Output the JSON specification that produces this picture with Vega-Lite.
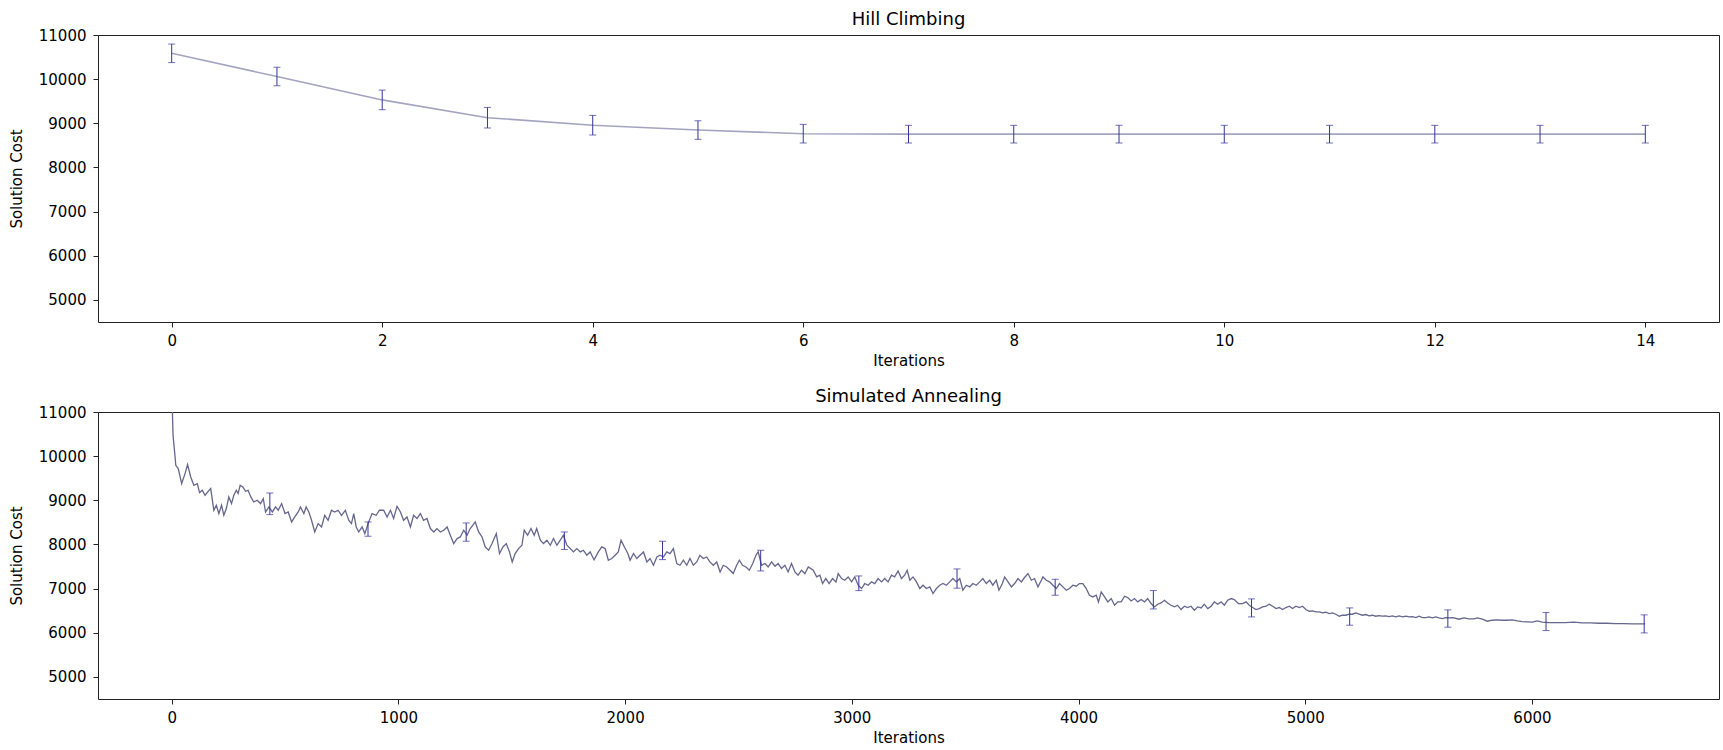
{
  "$schema": "https://vega.github.io/schema/vega-lite/v6.json",
  "background": "white",
  "padding": {"left": 8, "top": 10, "right": 5, "bottom": 2},
  "bounds": "flush",
  "spacing": 90,
  "config": {
    "font": "DejaVu Sans",
    "view": {"stroke": "#222222", "strokeWidth": 1},
    "axis": {
      "grid": false,
      "domain": false,
      "tickColor": "#222222",
      "tickSize": 5,
      "labelFont": "DejaVu Sans",
      "labelFontSize": 15,
      "labelColor": "#000000",
      "labelFlush": false,
      "labelOverlap": false,
      "format": "d",
      "titleFont": "DejaVu Sans",
      "titleFontSize": 15,
      "titleFontWeight": "normal",
      "titleColor": "#000000"
    },
    "axisX": {"labelPadding": 6, "titleY": 38, "titleBaseline": "middle"},
    "axisY": {"labelPadding": 7, "titleX": -82, "titleBaseline": "middle"},
    "title": {"font": "DejaVu Sans", "fontSize": 18, "fontWeight": "normal", "color": "#000000", "offset": -1}
  },
  "datasets": {
    "hc": [
      {"iter": 0, "mean": 10585, "lo": 10375, "hi": 10795},
      {"iter": 1, "mean": 10060, "lo": 9850, "hi": 10270},
      {"iter": 2, "mean": 9530, "lo": 9308, "hi": 9752},
      {"iter": 3, "mean": 9127, "lo": 8894, "hi": 9360},
      {"iter": 4, "mean": 8957, "lo": 8735, "hi": 9179},
      {"iter": 5, "mean": 8847, "lo": 8637, "hi": 9057},
      {"iter": 6, "mean": 8765, "lo": 8554, "hi": 8976},
      {"iter": 7, "mean": 8754, "lo": 8554, "hi": 8954},
      {"iter": 8, "mean": 8754, "lo": 8554, "hi": 8954},
      {"iter": 9, "mean": 8754, "lo": 8554, "hi": 8954},
      {"iter": 10, "mean": 8754, "lo": 8554, "hi": 8954},
      {"iter": 11, "mean": 8754, "lo": 8554, "hi": 8954},
      {"iter": 12, "mean": 8754, "lo": 8554, "hi": 8954},
      {"iter": 13, "mean": 8754, "lo": 8554, "hi": 8954},
      {"iter": 14, "mean": 8754, "lo": 8554, "hi": 8954}
    ],
    "saErr": [
      {"iter": 433, "mean": 8921, "lo": 8676, "hi": 9166},
      {"iter": 866, "mean": 8348, "lo": 8186, "hi": 8510},
      {"iter": 1299, "mean": 8280, "lo": 8073, "hi": 8487},
      {"iter": 1732, "mean": 8084, "lo": 7885, "hi": 8283},
      {"iter": 2165, "mean": 7865, "lo": 7657, "hi": 8073},
      {"iter": 2598, "mean": 7635, "lo": 7401, "hi": 7869},
      {"iter": 3031, "mean": 7121, "lo": 6955, "hi": 7287},
      {"iter": 3464, "mean": 7228, "lo": 7010, "hi": 7446},
      {"iter": 3897, "mean": 7031, "lo": 6850, "hi": 7212},
      {"iter": 4330, "mean": 6748, "lo": 6540, "hi": 6956},
      {"iter": 4763, "mean": 6563, "lo": 6359, "hi": 6767},
      {"iter": 5196, "mean": 6367, "lo": 6171, "hi": 6563},
      {"iter": 5629, "mean": 6322, "lo": 6126, "hi": 6518},
      {"iter": 6062, "mean": 6254, "lo": 6050, "hi": 6458},
      {"iter": 6495, "mean": 6201, "lo": 5997, "hi": 6405}
    ],
    "sa": [
      {"iter": 0, "cost": 11600}, {"iter": 6, "cost": 10470}, {"iter": 15, "cost": 9981}, {"iter": 18, "cost": 9793},
      {"iter": 29, "cost": 9718}, {"iter": 44, "cost": 9379}, {"iter": 59, "cost": 9605}, {"iter": 70, "cost": 9809},
      {"iter": 84, "cost": 9528}, {"iter": 98, "cost": 9340}, {"iter": 113, "cost": 9379}, {"iter": 123, "cost": 9175},
      {"iter": 135, "cost": 9227}, {"iter": 147, "cost": 9114}, {"iter": 161, "cost": 9204}, {"iter": 172, "cost": 9266},
      {"iter": 186, "cost": 8775}, {"iter": 197, "cost": 8888}, {"iter": 208, "cost": 8700}, {"iter": 220, "cost": 8888},
      {"iter": 230, "cost": 8661}, {"iter": 241, "cost": 8813}, {"iter": 252, "cost": 9076}, {"iter": 264, "cost": 8926},
      {"iter": 274, "cost": 9114}, {"iter": 285, "cost": 9227}, {"iter": 293, "cost": 9152}, {"iter": 302, "cost": 9340},
      {"iter": 314, "cost": 9302}, {"iter": 326, "cost": 9204}, {"iter": 337, "cost": 9227}, {"iter": 349, "cost": 9076},
      {"iter": 362, "cost": 8962}, {"iter": 377, "cost": 9001}, {"iter": 392, "cost": 8926}, {"iter": 404, "cost": 9039},
      {"iter": 414, "cost": 8736}, {"iter": 429, "cost": 8849}, {"iter": 444, "cost": 8736}, {"iter": 458, "cost": 8849},
      {"iter": 470, "cost": 8775}, {"iter": 485, "cost": 8926}, {"iter": 500, "cost": 8700}, {"iter": 514, "cost": 8736},
      {"iter": 529, "cost": 8510}, {"iter": 543, "cost": 8623}, {"iter": 558, "cost": 8736}, {"iter": 568, "cost": 8849},
      {"iter": 583, "cost": 8700}, {"iter": 593, "cost": 8849}, {"iter": 605, "cost": 8736}, {"iter": 617, "cost": 8548},
      {"iter": 631, "cost": 8283}, {"iter": 646, "cost": 8473}, {"iter": 661, "cost": 8397}, {"iter": 675, "cost": 8661},
      {"iter": 690, "cost": 8548}, {"iter": 705, "cost": 8775}, {"iter": 719, "cost": 8736}, {"iter": 734, "cost": 8775},
      {"iter": 749, "cost": 8661}, {"iter": 766, "cost": 8775}, {"iter": 781, "cost": 8548}, {"iter": 793, "cost": 8473},
      {"iter": 803, "cost": 8700}, {"iter": 814, "cost": 8397}, {"iter": 825, "cost": 8283}, {"iter": 840, "cost": 8397},
      {"iter": 852, "cost": 8246}, {"iter": 869, "cost": 8510}, {"iter": 884, "cost": 8700}, {"iter": 902, "cost": 8661},
      {"iter": 916, "cost": 8775}, {"iter": 935, "cost": 8775}, {"iter": 950, "cost": 8623}, {"iter": 965, "cost": 8775},
      {"iter": 979, "cost": 8587}, {"iter": 994, "cost": 8865}, {"iter": 1009, "cost": 8736}, {"iter": 1023, "cost": 8548},
      {"iter": 1038, "cost": 8623}, {"iter": 1053, "cost": 8397}, {"iter": 1067, "cost": 8661}, {"iter": 1082, "cost": 8587},
      {"iter": 1097, "cost": 8700}, {"iter": 1111, "cost": 8548}, {"iter": 1126, "cost": 8587}, {"iter": 1141, "cost": 8360},
      {"iter": 1156, "cost": 8283}, {"iter": 1170, "cost": 8360}, {"iter": 1185, "cost": 8283}, {"iter": 1200, "cost": 8322},
      {"iter": 1215, "cost": 8397}, {"iter": 1229, "cost": 8209}, {"iter": 1244, "cost": 8020}, {"iter": 1259, "cost": 8134},
      {"iter": 1273, "cost": 8170}, {"iter": 1288, "cost": 8322}, {"iter": 1303, "cost": 8209}, {"iter": 1317, "cost": 8360},
      {"iter": 1339, "cost": 8510}, {"iter": 1354, "cost": 8283}, {"iter": 1369, "cost": 8170}, {"iter": 1383, "cost": 7944},
      {"iter": 1398, "cost": 7869}, {"iter": 1413, "cost": 8020}, {"iter": 1432, "cost": 8247}, {"iter": 1446, "cost": 7794},
      {"iter": 1461, "cost": 7944}, {"iter": 1476, "cost": 8020}, {"iter": 1490, "cost": 7831}, {"iter": 1502, "cost": 7604},
      {"iter": 1515, "cost": 7794}, {"iter": 1530, "cost": 7907}, {"iter": 1545, "cost": 7982}, {"iter": 1555, "cost": 8322},
      {"iter": 1570, "cost": 8209}, {"iter": 1585, "cost": 8360}, {"iter": 1599, "cost": 8209}, {"iter": 1610, "cost": 8360},
      {"iter": 1626, "cost": 8096}, {"iter": 1640, "cost": 8020}, {"iter": 1655, "cost": 8096}, {"iter": 1670, "cost": 7982},
      {"iter": 1684, "cost": 8134}, {"iter": 1699, "cost": 7982}, {"iter": 1714, "cost": 8096}, {"iter": 1728, "cost": 8209},
      {"iter": 1743, "cost": 7982}, {"iter": 1758, "cost": 7907}, {"iter": 1772, "cost": 7831}, {"iter": 1787, "cost": 7907},
      {"iter": 1802, "cost": 7831}, {"iter": 1816, "cost": 7869}, {"iter": 1831, "cost": 7756}, {"iter": 1846, "cost": 7831},
      {"iter": 1863, "cost": 7650}, {"iter": 1882, "cost": 7831}, {"iter": 1897, "cost": 7944}, {"iter": 1912, "cost": 7907},
      {"iter": 1926, "cost": 7643}, {"iter": 1941, "cost": 7681}, {"iter": 1956, "cost": 7756}, {"iter": 1970, "cost": 7831},
      {"iter": 1982, "cost": 8096}, {"iter": 1997, "cost": 7944}, {"iter": 2012, "cost": 7794}, {"iter": 2022, "cost": 7643},
      {"iter": 2037, "cost": 7794}, {"iter": 2052, "cost": 7681}, {"iter": 2066, "cost": 7756}, {"iter": 2081, "cost": 7831},
      {"iter": 2096, "cost": 7604}, {"iter": 2110, "cost": 7681}, {"iter": 2125, "cost": 7529}, {"iter": 2140, "cost": 7717},
      {"iter": 2154, "cost": 7756}, {"iter": 2169, "cost": 7717}, {"iter": 2184, "cost": 7831}, {"iter": 2198, "cost": 7794},
      {"iter": 2213, "cost": 7907}, {"iter": 2228, "cost": 7568}, {"iter": 2242, "cost": 7529}, {"iter": 2257, "cost": 7643},
      {"iter": 2272, "cost": 7529}, {"iter": 2286, "cost": 7681}, {"iter": 2301, "cost": 7529}, {"iter": 2316, "cost": 7604},
      {"iter": 2330, "cost": 7756}, {"iter": 2345, "cost": 7681}, {"iter": 2360, "cost": 7717}, {"iter": 2374, "cost": 7604},
      {"iter": 2389, "cost": 7529}, {"iter": 2404, "cost": 7604}, {"iter": 2419, "cost": 7378}, {"iter": 2433, "cost": 7529},
      {"iter": 2448, "cost": 7491}, {"iter": 2463, "cost": 7416}, {"iter": 2477, "cost": 7341}, {"iter": 2492, "cost": 7529},
      {"iter": 2504, "cost": 7643}, {"iter": 2518, "cost": 7529}, {"iter": 2533, "cost": 7491}, {"iter": 2548, "cost": 7416},
      {"iter": 2563, "cost": 7568}, {"iter": 2577, "cost": 7756}, {"iter": 2587, "cost": 7831}, {"iter": 2602, "cost": 7529},
      {"iter": 2617, "cost": 7568}, {"iter": 2631, "cost": 7491}, {"iter": 2646, "cost": 7604}, {"iter": 2661, "cost": 7507},
      {"iter": 2675, "cost": 7568}, {"iter": 2690, "cost": 7454}, {"iter": 2705, "cost": 7529}, {"iter": 2719, "cost": 7378},
      {"iter": 2734, "cost": 7568}, {"iter": 2749, "cost": 7378}, {"iter": 2763, "cost": 7303}, {"iter": 2778, "cost": 7416},
      {"iter": 2793, "cost": 7341}, {"iter": 2808, "cost": 7491}, {"iter": 2830, "cost": 7416}, {"iter": 2845, "cost": 7265},
      {"iter": 2859, "cost": 7303}, {"iter": 2871, "cost": 7115}, {"iter": 2885, "cost": 7228}, {"iter": 2900, "cost": 7115},
      {"iter": 2915, "cost": 7228}, {"iter": 2930, "cost": 7152}, {"iter": 2940, "cost": 7341}, {"iter": 2955, "cost": 7228},
      {"iter": 2969, "cost": 7190}, {"iter": 2984, "cost": 7265}, {"iter": 2999, "cost": 7152}, {"iter": 3013, "cost": 7265},
      {"iter": 3028, "cost": 7077}, {"iter": 3043, "cost": 7002}, {"iter": 3057, "cost": 7115}, {"iter": 3072, "cost": 7077},
      {"iter": 3087, "cost": 7152}, {"iter": 3101, "cost": 7115}, {"iter": 3116, "cost": 7228}, {"iter": 3131, "cost": 7152},
      {"iter": 3145, "cost": 7228}, {"iter": 3160, "cost": 7152}, {"iter": 3175, "cost": 7303}, {"iter": 3189, "cost": 7265},
      {"iter": 3204, "cost": 7401}, {"iter": 3219, "cost": 7228}, {"iter": 3233, "cost": 7303}, {"iter": 3244, "cost": 7416},
      {"iter": 3256, "cost": 7190}, {"iter": 3270, "cost": 7265}, {"iter": 3285, "cost": 7152}, {"iter": 3300, "cost": 7002},
      {"iter": 3314, "cost": 7077}, {"iter": 3329, "cost": 7002}, {"iter": 3344, "cost": 7039}, {"iter": 3358, "cost": 6889},
      {"iter": 3373, "cost": 7002}, {"iter": 3388, "cost": 7077}, {"iter": 3402, "cost": 7115}, {"iter": 3417, "cost": 7077},
      {"iter": 3432, "cost": 7152}, {"iter": 3446, "cost": 7228}, {"iter": 3461, "cost": 7152}, {"iter": 3476, "cost": 7228},
      {"iter": 3490, "cost": 6964}, {"iter": 3505, "cost": 7077}, {"iter": 3520, "cost": 7039}, {"iter": 3534, "cost": 7115},
      {"iter": 3549, "cost": 7077}, {"iter": 3564, "cost": 7152}, {"iter": 3578, "cost": 7228}, {"iter": 3593, "cost": 7115},
      {"iter": 3608, "cost": 7190}, {"iter": 3622, "cost": 7077}, {"iter": 3637, "cost": 7190}, {"iter": 3649, "cost": 6964},
      {"iter": 3664, "cost": 7115}, {"iter": 3674, "cost": 7265}, {"iter": 3689, "cost": 7152}, {"iter": 3704, "cost": 7039},
      {"iter": 3718, "cost": 7115}, {"iter": 3733, "cost": 7228}, {"iter": 3748, "cost": 7152}, {"iter": 3760, "cost": 7240},
      {"iter": 3777, "cost": 7341}, {"iter": 3792, "cost": 7190}, {"iter": 3806, "cost": 7228}, {"iter": 3821, "cost": 7039},
      {"iter": 3836, "cost": 7190}, {"iter": 3843, "cost": 7265}, {"iter": 3858, "cost": 7190}, {"iter": 3872, "cost": 7152},
      {"iter": 3887, "cost": 7077}, {"iter": 3902, "cost": 7002}, {"iter": 3916, "cost": 7115}, {"iter": 3931, "cost": 7039},
      {"iter": 3946, "cost": 6964}, {"iter": 3960, "cost": 7002}, {"iter": 3975, "cost": 7077}, {"iter": 3990, "cost": 7054},
      {"iter": 4004, "cost": 7115}, {"iter": 4019, "cost": 7115}, {"iter": 4034, "cost": 7002}, {"iter": 4048, "cost": 6850},
      {"iter": 4063, "cost": 6812}, {"iter": 4078, "cost": 6850}, {"iter": 4088, "cost": 6699}, {"iter": 4100, "cost": 6925},
      {"iter": 4115, "cost": 6812}, {"iter": 4129, "cost": 6699}, {"iter": 4144, "cost": 6775}, {"iter": 4159, "cost": 6624},
      {"iter": 4173, "cost": 6699}, {"iter": 4188, "cost": 6699}, {"iter": 4203, "cost": 6827}, {"iter": 4217, "cost": 6797},
      {"iter": 4232, "cost": 6721}, {"iter": 4247, "cost": 6775}, {"iter": 4261, "cost": 6699}, {"iter": 4276, "cost": 6752},
      {"iter": 4291, "cost": 6699}, {"iter": 4305, "cost": 6775}, {"iter": 4320, "cost": 6662}, {"iter": 4335, "cost": 6586},
      {"iter": 4349, "cost": 6647}, {"iter": 4364, "cost": 6676}, {"iter": 4379, "cost": 6737}, {"iter": 4393, "cost": 6676},
      {"iter": 4408, "cost": 6624}, {"iter": 4423, "cost": 6586}, {"iter": 4437, "cost": 6624}, {"iter": 4452, "cost": 6526},
      {"iter": 4467, "cost": 6601}, {"iter": 4481, "cost": 6571}, {"iter": 4496, "cost": 6601}, {"iter": 4511, "cost": 6511},
      {"iter": 4526, "cost": 6586}, {"iter": 4541, "cost": 6563}, {"iter": 4555, "cost": 6647}, {"iter": 4570, "cost": 6549},
      {"iter": 4585, "cost": 6601}, {"iter": 4599, "cost": 6699}, {"iter": 4614, "cost": 6647}, {"iter": 4629, "cost": 6699},
      {"iter": 4643, "cost": 6624}, {"iter": 4658, "cost": 6737}, {"iter": 4673, "cost": 6775}, {"iter": 4687, "cost": 6752},
      {"iter": 4705, "cost": 6662}, {"iter": 4724, "cost": 6662}, {"iter": 4739, "cost": 6699}, {"iter": 4753, "cost": 6624},
      {"iter": 4768, "cost": 6571}, {"iter": 4783, "cost": 6526}, {"iter": 4797, "cost": 6549}, {"iter": 4812, "cost": 6586},
      {"iter": 4827, "cost": 6601}, {"iter": 4841, "cost": 6647}, {"iter": 4856, "cost": 6601}, {"iter": 4871, "cost": 6549},
      {"iter": 4885, "cost": 6571}, {"iter": 4900, "cost": 6526}, {"iter": 4915, "cost": 6571}, {"iter": 4930, "cost": 6601},
      {"iter": 4944, "cost": 6549}, {"iter": 4959, "cost": 6601}, {"iter": 4974, "cost": 6571}, {"iter": 4988, "cost": 6601},
      {"iter": 5003, "cost": 6526}, {"iter": 5018, "cost": 6488}, {"iter": 5032, "cost": 6495}, {"iter": 5047, "cost": 6473},
      {"iter": 5062, "cost": 6473}, {"iter": 5076, "cost": 6450}, {"iter": 5091, "cost": 6465}, {"iter": 5106, "cost": 6435},
      {"iter": 5120, "cost": 6450}, {"iter": 5135, "cost": 6420}, {"iter": 5150, "cost": 6375}, {"iter": 5164, "cost": 6397},
      {"iter": 5179, "cost": 6397}, {"iter": 5194, "cost": 6420}, {"iter": 5208, "cost": 6420}, {"iter": 5223, "cost": 6450},
      {"iter": 5238, "cost": 6420}, {"iter": 5252, "cost": 6397}, {"iter": 5267, "cost": 6413}, {"iter": 5282, "cost": 6382},
      {"iter": 5296, "cost": 6397}, {"iter": 5311, "cost": 6375}, {"iter": 5326, "cost": 6390}, {"iter": 5340, "cost": 6375},
      {"iter": 5355, "cost": 6382}, {"iter": 5370, "cost": 6367}, {"iter": 5384, "cost": 6382}, {"iter": 5399, "cost": 6359},
      {"iter": 5414, "cost": 6382}, {"iter": 5429, "cost": 6359}, {"iter": 5444, "cost": 6375}, {"iter": 5458, "cost": 6359},
      {"iter": 5473, "cost": 6367}, {"iter": 5488, "cost": 6345}, {"iter": 5502, "cost": 6375}, {"iter": 5517, "cost": 6345},
      {"iter": 5532, "cost": 6345}, {"iter": 5546, "cost": 6359}, {"iter": 5561, "cost": 6337}, {"iter": 5576, "cost": 6359},
      {"iter": 5590, "cost": 6337}, {"iter": 5605, "cost": 6322}, {"iter": 5620, "cost": 6345}, {"iter": 5634, "cost": 6337},
      {"iter": 5652, "cost": 6345}, {"iter": 5678, "cost": 6307}, {"iter": 5700, "cost": 6337}, {"iter": 5722, "cost": 6314},
      {"iter": 5744, "cost": 6314}, {"iter": 5759, "cost": 6337}, {"iter": 5781, "cost": 6307}, {"iter": 5803, "cost": 6262},
      {"iter": 5825, "cost": 6284}, {"iter": 5847, "cost": 6292}, {"iter": 5869, "cost": 6284}, {"iter": 5891, "cost": 6284},
      {"iter": 5913, "cost": 6292}, {"iter": 5935, "cost": 6269}, {"iter": 5957, "cost": 6254}, {"iter": 5979, "cost": 6246},
      {"iter": 6001, "cost": 6239}, {"iter": 6023, "cost": 6269}, {"iter": 6045, "cost": 6239}, {"iter": 6075, "cost": 6232},
      {"iter": 6112, "cost": 6232}, {"iter": 6147, "cost": 6232}, {"iter": 6185, "cost": 6239}, {"iter": 6222, "cost": 6224},
      {"iter": 6258, "cost": 6224}, {"iter": 6295, "cost": 6216}, {"iter": 6332, "cost": 6216}, {"iter": 6369, "cost": 6209},
      {"iter": 6405, "cost": 6209}, {"iter": 6442, "cost": 6201}, {"iter": 6486, "cost": 6201}, {"iter": 6499, "cost": 6200}
    ]
  },
  "vconcat": [
    {
      "title": "Hill Climbing",
      "width": 1621,
      "height": 287,
      "data": {"name": "hc"},
      "encoding": {
        "x": {
          "field": "iter",
          "type": "quantitative",
          "scale": {"domain": [-0.7, 14.7], "nice": false, "zero": false},
          "axis": {"title": "Iterations", "values": [0, 2, 4, 6, 8, 10, 12, 14]}
        }
      },
      "layer": [
        {
          "mark": {"type": "line", "color": "#a4a4c0", "strokeWidth": 1.6},
          "encoding": {
            "y": {
              "field": "mean",
              "type": "quantitative",
              "scale": {"domain": [4500, 11000], "nice": false, "zero": false},
              "axis": {"title": "Solution Cost", "values": [5000, 6000, 7000, 8000, 9000, 10000, 11000]}
            }
          }
        },
        {
          "mark": {"type": "rule", "color": "#34349c", "strokeWidth": 1},
          "encoding": {
            "y": {"field": "lo", "type": "quantitative"},
            "y2": {"field": "hi"}
          }
        },
        {
          "mark": {"type": "tick", "orient": "horizontal", "color": "#34349c", "size": 7, "thickness": 1},
          "encoding": {"y": {"field": "lo", "type": "quantitative"}}
        },
        {
          "mark": {"type": "tick", "orient": "horizontal", "color": "#34349c", "size": 7, "thickness": 1},
          "encoding": {"y": {"field": "hi", "type": "quantitative"}}
        }
      ]
    },
    {
      "title": "Simulated Annealing",
      "width": 1621,
      "height": 287,
      "encoding": {
        "x": {
          "field": "iter",
          "type": "quantitative",
          "scale": {"domain": [-325, 6825], "nice": false, "zero": false},
          "axis": {"title": "Iterations", "values": [0, 1000, 2000, 3000, 4000, 5000, 6000]}
        }
      },
      "layer": [
        {
          "data": {"name": "sa"},
          "mark": {"type": "line", "color": "#66668e", "strokeWidth": 1.3, "clip": true},
          "encoding": {
            "y": {
              "field": "cost",
              "type": "quantitative",
              "scale": {"domain": [4500, 11000], "nice": false, "zero": false},
              "axis": {"title": "Solution Cost", "values": [5000, 6000, 7000, 8000, 9000, 10000, 11000]}
            }
          }
        },
        {
          "data": {"name": "saErr"},
          "mark": {"type": "rule", "color": "#34349c", "strokeWidth": 1},
          "encoding": {
            "y": {"field": "lo", "type": "quantitative"},
            "y2": {"field": "hi"}
          }
        },
        {
          "data": {"name": "saErr"},
          "mark": {"type": "tick", "orient": "horizontal", "color": "#34349c", "size": 7, "thickness": 1},
          "encoding": {"y": {"field": "lo", "type": "quantitative"}}
        },
        {
          "data": {"name": "saErr"},
          "mark": {"type": "tick", "orient": "horizontal", "color": "#34349c", "size": 7, "thickness": 1},
          "encoding": {"y": {"field": "hi", "type": "quantitative"}}
        }
      ]
    }
  ]
}
